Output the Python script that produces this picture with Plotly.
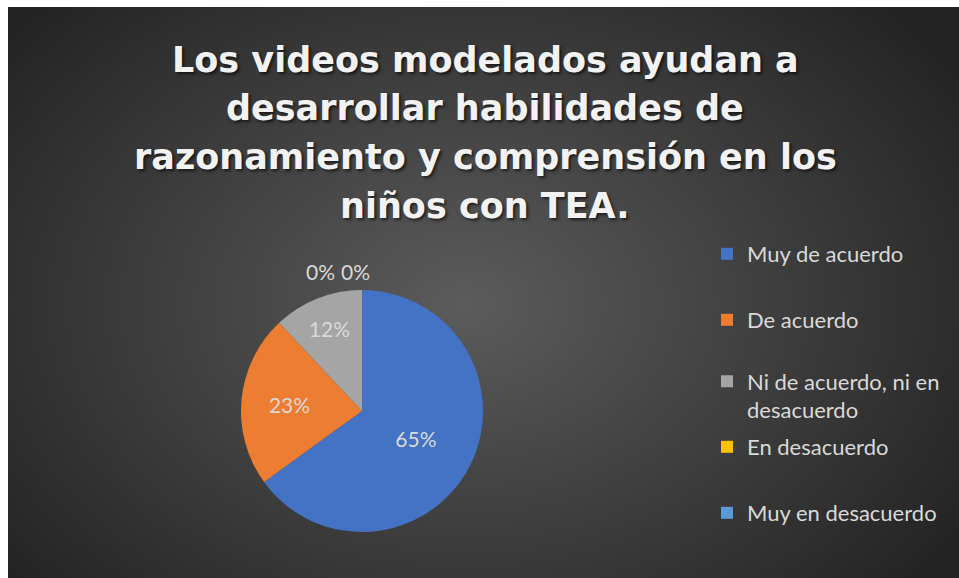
import zlib, struct, base64
import numpy as np
import plotly.graph_objects as go

# ---------------- data ----------------
title_lines = [
    "Los videos modelados ayudan a",
    "desarrollar habilidades de",
    "razonamiento y comprensión en los",
    "niños con TEA.",
]
categories = ["Muy de acuerdo", "De acuerdo", "Ni de acuerdo, ni en desacuerdo",
              "En desacuerdo", "Muy en desacuerdo"]
legend_labels = ["Muy de acuerdo", "De acuerdo", "Ni de acuerdo, ni en<br>desacuerdo",
                 "En desacuerdo", "Muy en desacuerdo"]
percentages = [65, 23, 12, 0, 0]
colors = ["#4472C4", "#ED7D31", "#A5A5A5", "#FFC000", "#5B9BD5"]

W, H = 959, 578

# ---------------- background radial gradient (PNG data URI) ----------------
def png_uri(arr):
    h, w, _ = arr.shape
    raw = b"".join(b"\x00" + arr[r].tobytes() for r in range(h))
    def chunk(t, d):
        c = struct.pack(">I", len(d)) + t + d
        return c + struct.pack(">I", zlib.crc32(t + d) & 0xFFFFFFFF)
    png = (b"\x89PNG\r\n\x1a\n"
           + chunk(b"IHDR", struct.pack(">IIBBBBB", w, h, 8, 2, 0, 0, 0))
           + chunk(b"IDAT", zlib.compress(raw, 9))
           + chunk(b"IEND", b""))
    return "data:image/png;base64," + base64.b64encode(png).decode()

bw, bh = W - 8, H - 7
yy, xx = np.mgrid[0:bh, 0:bw].astype(float)
cx, cy = bw * 0.48, bh * 0.52
d = np.sqrt(((xx - cx) / (bw * 0.62)) ** 2 + ((yy - cy) / (bh * 0.75)) ** 2)
t = np.clip(d, 0, 1)
center_c, edge_c = 92.0, 36.0
val = center_c + (edge_c - center_c) * t
img = np.repeat(np.clip(val, 0, 255).astype(np.uint8)[:, :, None], 3, axis=2)
bg_uri = png_uri(img)

# ---------------- figure ----------------
fig = go.Figure()

pie_dom_x = [241 / W, 483 / W]
pie_dom_y = [1 - 532 / H, 1 - 290 / H]
fig.add_trace(go.Pie(
    labels=categories,
    values=percentages,
    sort=False,
    direction="clockwise",
    rotation=0,
    marker=dict(colors=colors, line=dict(width=0)),
    texttemplate=["%{percent:.0%}" if p > 0 else "" for p in percentages],
    textposition="inside",
    insidetextorientation="horizontal",
    textfont=dict(family="Lato", size=21, color="#D9D9D9"),
    showlegend=False,
    hoverinfo="label+percent",
    domain=dict(x=pie_dom_x, y=pie_dom_y),
))

legend_names = ["legend", "legend2", "legend3", "legend4", "legend5"]
for name, lab, col in zip(legend_names, legend_labels, colors):
    fig.add_trace(go.Scatter(
        x=[None], y=[None], mode="markers", name=lab,
        marker=dict(symbol="square", size=12, color=col),
        legend=name, showlegend=True, hoverinfo="skip",
    ))

legend_center_y = [254, 320, 396, 447, 513]
layout_legends = {}
for name, cyy in zip(legend_names, legend_center_y):
    layout_legends[name] = dict(
        x=707 / W, xanchor="left", y=1 - cyy / H, yanchor="middle",
        bgcolor="rgba(0,0,0,0)", borderwidth=0, valign="top",
        font=dict(family="Lato", size=22, color="#D9D9D9"),
    )

annotations = []
# title lines
title_center_y = [60, 108, 157, 206]
for line, cyy in zip(title_lines, title_center_y):
    annotations.append(dict(
        text=line, xref="paper", yref="paper", x=485 / W, y=1 - cyy / H,
        xanchor="center", yanchor="middle", showarrow=False,
        font=dict(family="DejaVu Sans", weight="bold", size=35, color="#F2F2F2",
                  shadow="2px 2px 3px rgba(0,0,0,0.6)"),
    ))
# labels of the zero-value slices, placed just above the top of the pie
pie_cx = (pie_dom_x[0] + pie_dom_x[1]) / 2
zero_offsets_px = [-42, -7]
zero_vals = [p for p in percentages if p == 0]
for p, off in zip(zero_vals, zero_offsets_px):
    annotations.append(dict(
        text=f"{p}%", xref="paper", yref="paper",
        x=pie_cx + off / W, y=pie_dom_y[1] + 19 / H,
        xanchor="center", yanchor="middle", showarrow=False,
        font=dict(family="Lato", size=21, color="#D9D9D9"),
    ))

fig.update_layout(
    width=W, height=H,
    margin=dict(l=0, r=0, t=0, b=0),
    paper_bgcolor="white",
    plot_bgcolor="rgba(0,0,0,0)",
    xaxis=dict(visible=False),
    yaxis=dict(visible=False),
    annotations=annotations,
    images=[dict(
        source=bg_uri, xref="paper", yref="paper",
        x=8 / W, y=1 - 7 / H, sizex=bw / W, sizey=bh / H,
        xanchor="left", yanchor="top", sizing="stretch", layer="below",
    )],
    **layout_legends,
)

fig.write_html("out.html")
